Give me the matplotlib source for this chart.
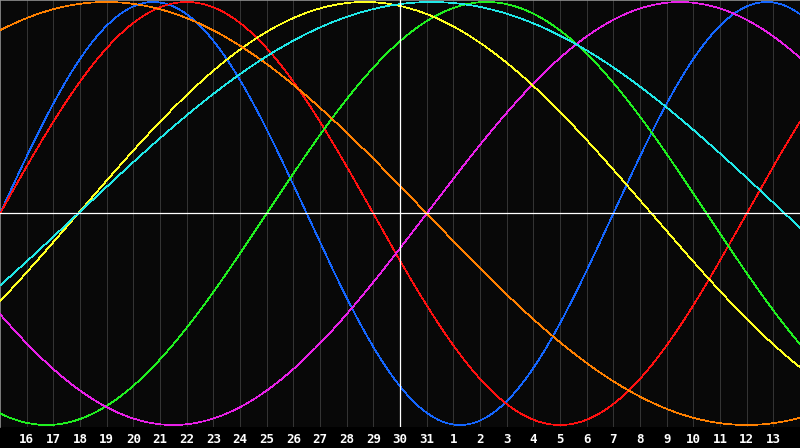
import numpy as np
import matplotlib
matplotlib.use("Agg")
import matplotlib.pyplot as plt

# ------------------------------------------------------------
# Data
# ------------------------------------------------------------
# day labels along the bottom, one per grid line (x = 1 .. 29)
day_labels = list(range(16, 32)) + list(range(1, 14))
today_pos = 15          # position of "30", the bright vertical line
n_days = 30             # chart spans x = 0 .. 30

# cycles: period (days) and the chart day where each one crosses zero going up
cycle_names = ["physical", "emotional", "intellectual", "intuitive",
               "aesthetic", "awareness", "spiritual"]
periods = [23, 28, 33, 38, 43, 48, 53]
zero_up = [0.0, 0.0, 10.0, 16.0, 2.93, -8.0, 2.93]
colors = ["#1466ff", "#ff1010", "#20f020", "#e820e8",
          "#ffff20", "#ff8000", "#20e8e8"]

# ------------------------------------------------------------
# Figure
# ------------------------------------------------------------
fig = plt.figure(figsize=(8.0, 4.48), dpi=100, facecolor="black")
ax = fig.add_axes([0, 1 - 427 / 448, 1, 427 / 448])
ax.set_facecolor("#080808")

t = np.linspace(0, n_days, 1500)
for name, per, z0, col in zip(cycle_names, periods, zero_up, colors):
    ax.plot(t, np.sin(2 * np.pi * (t - z0) / per), color=col, lw=0.5,
            antialiased=False, zorder=3, label=name)

ax.set_xlim(0, n_days)
ax.set_ylim(-1.0095, 1.0095)

ticks = np.arange(1, len(day_labels) + 1)
ax.set_xticks(ticks, [str(d) for d in day_labels])
ax.set_yticks([])
ax.grid(axis="x", color="#333333", lw=0.72, zorder=1)
ax.tick_params(axis="x", length=0, pad=4, colors="white", labelsize=9)
for lab in ax.get_xticklabels():
    lab.set_fontfamily("DejaVu Sans Mono")
    lab.set_fontweight("bold")

ax.axhline(0, color="white", lw=0.9, zorder=4)
ax.axvline(today_pos, color="white", lw=0.9, zorder=4)

for side in ["right", "bottom"]:
    ax.spines[side].set_visible(False)
for side in ["top", "left"]:
    ax.spines[side].set_color("#909090")
    ax.spines[side].set_linewidth(1.2)

fig.savefig("out.png", dpi=100, facecolor="black")
